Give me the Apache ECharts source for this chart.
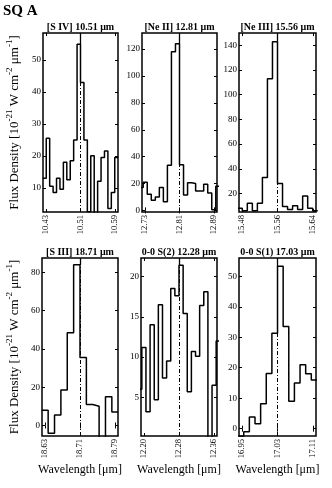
<!DOCTYPE html>
<html><head><meta charset="utf-8">
<script src="https://cdn.jsdelivr.net/npm/echarts@6/dist/echarts.min.js"></script>
<style>html,body{margin:0;padding:0;background:#fff}#c{width:332px;height:488px}</style>
</head><body><div id="c"></div>
<script>
// ---- data ----
const chartTitle = 'SQ A';
const panelTitles = ['[S IV] 10.51 μm', '[Ne II] 12.81 μm', '[Ne III] 15.56 μm',
                     '[S III] 18.71 μm', '0-0 S(2) 12.28 μm', '0-0 S(1) 17.03 μm'];
const lineCenters = [10.51, 12.81, 15.56, 18.71, 12.28, 17.03];
const xTicks = [[10.43, 10.51, 10.59], [12.73, 12.81, 12.89], [15.48, 15.56, 15.64],
                [18.63, 18.71, 18.79], [12.20, 12.28, 12.36], [16.95, 17.03, 17.11]];
const yTicks = [[10, 20, 30, 40, 50], [0, 20, 40, 60, 80, 100, 120], [20, 40, 60, 80, 100, 120, 140],
                [0, 20, 40, 60, 80], [5, 10, 15, 20], [0, 10, 20, 30, 40, 50]];
const yRanges = [[2.4, 58.5], [-1.2, 132], [5, 150], [-5.5, 87.5], [0.2, 22.3], [-2.4, 56]];
const xHalfSpan = 0.0865;
// spectral grid: first bin edge and bin width (μm)
const binStart = [10.4231, 12.717, 15.4696, 18.623, 12.186, 16.9415];
const binWidth = [0.0079, 0.0093, 0.0113, 0.0145, 0.0094, 0.01265];
// flux densities per bin
const fluxSIV   = [13, 25.5, 10.5, 8.5, 13, 9.5, 18, 12.5, 18.5, 25, 55, 43, 25, 2.5, 20, 0, 12, 19.5, 21.5, 3.5, 8.5, 19.5];
const fluxNeII  = [17, 21, 12, 7.5, 10, 17, 6.5, 33.5, 118, 124, 34, 11.5, 20.5, 20, 14.5, 14.5, 19.5, 13, 0.5, 18];
const fluxNeIII = [8, 6, 12, 6, 12, 33, 113, 143, 28, 9.5, 7, 10, 7, 18, 8, 6];
const fluxSIII  = [8, -4, 5.5, 18.5, 48.5, 84, 35.5, 11, 10, -7, 15, 7];
const fluxS2    = [6, 11.2, 3.2, 14, 4.7, 16.5, 7.4, 9.5, 18.5, 17.6, 21.4, 15.4, 5.7, 10.7, 10.1, 16.4, 18.1, -1, 6.5, 12];
const fluxS1    = [-2.5, -1, 3.8, 1.6, 8.2, 18.1, 31.3, 53.3, 33.5, 9, 15, 21, 18, 16];
const fluxes = [fluxSIV, fluxNeII, fluxNeIII, fluxSIII, fluxS2, fluxS1];
const yAxisTitle = ['Flux Density [10', '-21', ' W cm', '-2', ' μm', '-1', ']'];
const xAxisTitle = 'Wavelength [μm]';

// ---- layout ----
const FONT = '"Liberation Serif", "Times New Roman", serif';
const gridPos = [[43, 33, 75, 179], [142, 33, 75, 179], [239, 33, 77, 179],
                 [42, 258, 76, 178], [141, 258, 76, 178], [239, 258, 77, 178]];

const option = {animation: false, backgroundColor: '#fff', grid: [], xAxis: [], yAxis: [], series: [], graphic: []};

fluxes.forEach((vals, i) => {
  const [l, t, w, h] = gridPos[i];
  option.grid.push({left: l, top: t, width: w, height: h, show: true,
    borderColor: '#000', borderWidth: 1.5, backgroundColor: 'transparent', containLabel: false});
  const xmin = lineCenters[i] - xHalfSpan, xmax = lineCenters[i] + xHalfSpan;
  const tickStyle = {inside: true, length: 3, lineStyle: {color: '#000', width: 1}};
  option.xAxis.push({gridIndex: i, type: 'value', min: xmin, max: xmax, position: 'bottom',
    axisLine: {show: false}, splitLine: {show: false},
    axisTick: Object.assign({customValues: xTicks[i]}, tickStyle),
    axisLabel: {customValues: xTicks[i], rotate: 90, fontSize: 8.5, fontFamily: FONT, color: '#000', margin: 3,
      formatter: v => Number(v).toFixed(2)}});
  option.xAxis.push({gridIndex: i, type: 'value', min: xmin, max: xmax, position: 'top',
    axisLine: {show: false}, splitLine: {show: false},
    axisTick: Object.assign({customValues: xTicks[i]}, tickStyle), axisLabel: {show: false}});
  option.yAxis.push({gridIndex: i, type: 'value', min: yRanges[i][0], max: yRanges[i][1], position: 'left',
    axisLine: {show: false}, splitLine: {show: false},
    axisTick: Object.assign({customValues: yTicks[i]}, tickStyle),
    axisLabel: {customValues: yTicks[i], fontSize: 9, fontFamily: FONT, color: '#000', margin: 2}});
  option.yAxis.push({gridIndex: i, type: 'value', min: yRanges[i][0], max: yRanges[i][1], position: 'right',
    axisLine: {show: false}, splitLine: {show: false},
    axisTick: Object.assign({customValues: yTicks[i]}, tickStyle), axisLabel: {show: false}});

  const pts = vals.map((v, k) => [binStart[i] + k * binWidth[i], v]);
  pts.push([binStart[i] + vals.length * binWidth[i], vals[vals.length - 1]]);
  const peak = Math.max(...vals);
  option.series.push({type: 'line', xAxisIndex: 2 * i, yAxisIndex: 2 * i, step: 'end',
    symbol: 'none', showSymbol: false, clip: true, data: pts,
    lineStyle: {color: '#000', width: 1.5},
    markLine: {silent: true, symbol: 'none', label: {show: false}, animation: false,
      lineStyle: {color: '#000', width: 1, type: [4, 2, 1, 2]},
      data: [
        {xAxis: lineCenters[i]},
        [{coord: [lineCenters[i], peak], lineStyle: {type: 'solid', width: 1.3}}, {coord: [lineCenters[i], yRanges[i][1]]}]
      ]}});

  option.graphic.push({type: 'text', x: l + w / 2, y: t - 6, style: {text: panelTitles[i],
    fontSize: 10, fontWeight: 'bold', fontFamily: FONT, fill: '#000',
    textAlign: 'center', textVerticalAlign: 'middle', align: 'center', verticalAlign: 'middle'}});
  if (i >= 3) {
    option.graphic.push({type: 'text', x: l + w / 2, y: 470, style: {text: xAxisTitle,
      fontSize: 12, fontFamily: FONT, fill: '#000',
      textAlign: 'center', textVerticalAlign: 'middle', align: 'center', verticalAlign: 'middle'}});
  }
});

option.graphic.push({type: 'text', x: 3, y: 11, style: {text: chartTitle, fontSize: 15, fontWeight: 'bold',
  fontFamily: FONT, fill: '#000', textVerticalAlign: 'middle', verticalAlign: 'middle'}});

const richTitle = yAxisTitle.map((s, k) => (k % 2 ? '{s|' : '{a|') + s + '}').join('');
[0, 1].forEach(r => {
  const [l, t, w, h] = gridPos[r * 3];
  option.graphic.push({type: 'text', x: 13, y: t + h / 2, rotation: Math.PI / 2,
    style: {text: richTitle, fill: '#000',
      textAlign: 'center', textVerticalAlign: 'middle', align: 'center', verticalAlign: 'middle',
      rich: {a: {fontSize: 13, fontFamily: FONT, fill: '#000', lineHeight: 16, verticalAlign: 'bottom'},
             s: {fontSize: 9, fontFamily: FONT, fill: '#000', lineHeight: 16, verticalAlign: 'top'}}}});
});

const chart = echarts.init(document.getElementById('c'), null, {renderer: 'canvas'});
chart.setOption(option);
</script>
</body></html>
